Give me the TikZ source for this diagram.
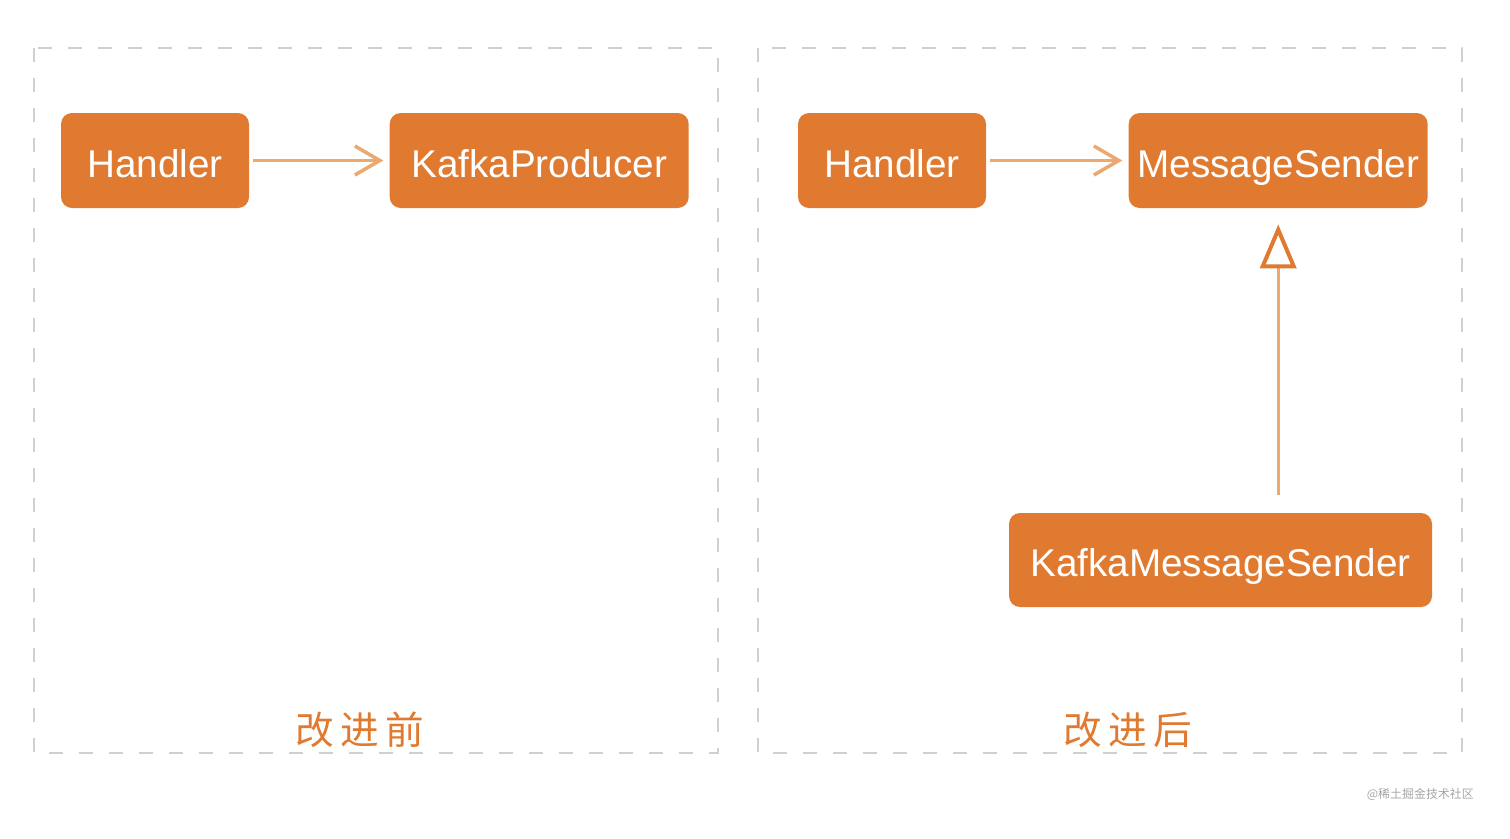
\documentclass[tikz,border=0pt]{standalone}
\usepackage{fontspec}
\setmainfont{Liberation Sans}
\newfontfamily\cjk{Noto Sans CJK SC}
\usepackage{tikz}
\usetikzlibrary{arrows.meta, positioning}
\definecolor{boxorange}{RGB}{224,122,48}
\definecolor{linkorange}{RGB}{236,168,110}
\definecolor{framegray}{RGB}{208,208,208}
\definecolor{markgray}{RGB}{165,165,165}
\tikzset{
    classbox/.style={
        rectangle,
        rounded corners=0.22cm,
        fill=boxorange,
        text=white,
        text centered,
        inner xsep=0.1cm,
        text height=0.66cm,
        text depth=0cm,
        minimum height=1.9cm,
        font=\fontsize{22}{26}\selectfont
    },
    dep/.style={
        draw=linkorange,
        line width=0.07cm,
        shorten <=0.08cm,
        shorten >=0.12cm,
        -{Straight Barb[length=0.5cm, width=0.58cm]}
    },
    impl/.style={
        draw=linkorange,
        line width=0.06cm,
        shorten <=0.36cm,
        shorten >=0.32cm,
        -{Triangle[open, length=0.88cm, width=0.72cm, color=boxorange, fill=white, line width=0.08cm]}
    },
    frame/.style={
        draw=framegray,
        line width=0.04cm,
        dash pattern=on 0.28cm off 0.32cm
    },
    caption/.style={
        text=boxorange,
        font=\cjk\fontsize{22}{24}\selectfont
    }
}
\begin{document}
\begin{tikzpicture}

\useasboundingbox (0,0) rectangle (30.2,-16.76);

% Frames
\draw[frame] (0.68,-0.96) rectangle (14.36,-15.06);
\draw[frame] (15.16,-0.96) rectangle (29.24,-15.06);

% Before
\node[classbox, minimum width=3.76cm] (handlerA) at (3.10,-3.21) {Handler};
\node[classbox, minimum width=5.98cm, right=2.8cm of handlerA] (producer) {KafkaProducer};
\draw[dep] (handlerA) -- (producer);

% After
\node[classbox, minimum width=3.76cm] (handlerB) at (17.84,-3.21) {Handler};
\node[classbox, minimum width=5.98cm, right=2.84cm of handlerB] (sender) {MessageSender};
\node[classbox, minimum width=8.46cm, minimum height=1.88cm] (kafkaSender) at (24.41,-11.2) {KafkaMessageSender};
\draw[dep] (handlerB) -- (sender);
\draw[impl] (kafkaSender.north -| sender.south) -- (sender.south);

% Captions
\node[caption] (before) at (7.2,-14.6) {改\,进\,前};
\node[caption] (after) at (22.56,-14.6) {改\,进\,后};
\node[anchor=east, text=markgray, font=\cjk\fontsize{6.8}{8}\selectfont] (mark) at (29.6,-15.88) {@稀土掘金技术社区};

\end{tikzpicture}
\end{document}
